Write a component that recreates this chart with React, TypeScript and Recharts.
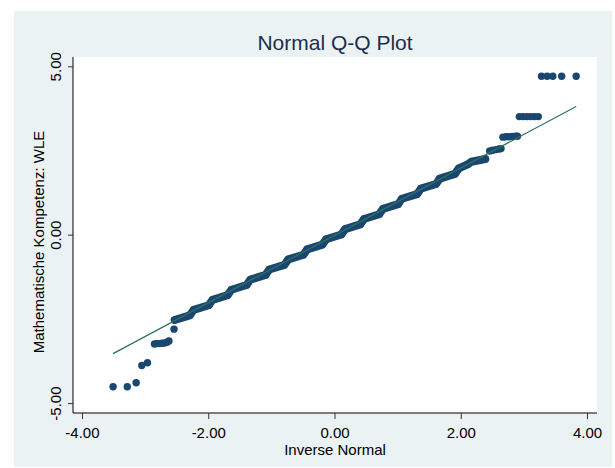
import React from 'react';
import { ScatterChart, Scatter, XAxis, YAxis, CartesianGrid, Label } from 'recharts';

// lower tail
const lowX = [-3.515, -3.29, -3.15, -3.06, -2.97, -2.86, -2.82, -2.78, -2.74, -2.70, -2.66, -2.63, -2.55];
const lowY = [-4.5, -4.5, -4.38, -3.87, -3.79, -3.23, -3.22, -3.22, -3.21, -3.2, -3.18, -3.14, -2.79];

// main band: start and end of each run of tied WLE values
const midX = [
  -2.54, -2.3, -2.24, -2.0, -1.94, -1.7, -1.64, -1.4, -1.34, -1.1, -1.04, -0.8, -0.74, -0.5, -0.44, -0.2,
  -0.14, 0.1, 0.16, 0.4, 0.46, 0.7, 0.76, 1.0, 1.06, 1.3, 1.36, 1.6, 1.66, 1.9, 1.96, 2.1, 2.16, 2.38,
];
const midY = [
  -2.52, -2.38, -2.22, -2.08, -1.92, -1.78, -1.62, -1.48, -1.32, -1.18, -1.02, -0.88, -0.72, -0.58, -0.42, -0.28,
  -0.12, 0.02, 0.18, 0.32, 0.48, 0.62, 0.78, 0.92, 1.08, 1.22, 1.38, 1.52, 1.68, 1.82, 1.98, 2.1, 2.18, 2.26,
];

// upper tail
const highX = [2.45, 2.5, 2.55, 2.6, 2.63, 2.66, 2.71, 2.76, 2.81, 2.86, 2.89, 2.92, 2.98, 3.04, 3.1, 3.16, 3.22, 3.27, 3.36, 3.45, 3.59, 3.82];
const highY = [2.5, 2.52, 2.54, 2.56, 2.57, 2.91, 2.92, 2.92, 2.93, 2.94, 2.94, 3.52, 3.52, 3.52, 3.52, 3.52, 3.52, 4.72, 4.72, 4.72, 4.72, 4.72];

const xTicks = [-4, -2, 0, 2, 4];
const yTicks = [-5, 0, 5];
// normal line y = x between the smallest and largest normal quantile
const lineEnds = [-3.515, 3.82];

const toPts = (xs: number[], ys: number[]) => xs.map((x, i) => ({ x, y: ys[i] }));
const lowPts = toPts(lowX, lowY);
const midPts = toPts(midX, midY);
const highPts = toPts(highX, highY);
const linePts = lineEnds.map((v) => ({ x: v, y: v }));

const FONT = '"Liberation Sans", Arial, sans-serif';
const NAVY = '#1a476f';

const Dot = (props: any) => <circle cx={props.cx} cy={props.cy} r={3.7} fill={NAVY} />;
const NoDot = () => <g />;

const XTick = ({ x, y, payload }: any) => (
  <text x={x} y={y} dy="0.71em" textAnchor="middle" fontSize={15} fontFamily={FONT} fill="#000">
    {payload.value.toFixed(2)}
  </text>
);

const YTick = ({ x, y, payload }: any) => (
  <text
    x={x}
    y={y}
    transform={`rotate(-90 ${x} ${y})`}
    textAnchor="middle"
    fontSize={15}
    fontFamily={FONT}
    fill="#000"
  >
    {payload.value.toFixed(2)}
  </text>
);

const YTitle = ({ viewBox }: any) => {
  const cx = 44;
  const cy = viewBox.y + viewBox.height / 2 + 7;
  return (
    <text
      x={cx}
      y={cy}
      transform={`rotate(-90 ${cx} ${cy})`}
      textAnchor="middle"
      fontSize={15}
      fontFamily={FONT}
      fill="#000"
    >
      Mathematische Kompetenz: WLE
    </text>
  );
};

export default function App() {
  return (
    <div style={{ position: 'absolute', left: 0, top: 0, width: 615, height: 468, background: '#fff' }}>
      <div style={{ position: 'absolute', left: 14, top: 11, width: 598, height: 456, background: '#eaf2f3' }} />
      <svg style={{ position: 'absolute', left: 0, top: 0 }} width={615} height={468}>
        <text x={335} y={50} textAnchor="middle" fontSize={21} fontFamily={FONT} fill="#1e2d4c">
          Normal Q-Q Plot
        </text>
      </svg>
      <div style={{ position: 'absolute', left: 0, top: 0 }}>
        <ScatterChart width={615} height={468} margin={{ top: 57, right: 18, left: 0, bottom: 0 }}>
          <CartesianGrid horizontal={false} vertical={false} fill="#fff" />
          <XAxis
            type="number"
            dataKey="x"
            domain={[-4.15, 4.15]}
            ticks={xTicks}
            height={55}
            tickSize={6}
            tickMargin={8}
            tick={<XTick />}
            stroke="#000"
            tickLine={{ stroke: '#333' }}
          >
            <Label value="Inverse Normal" position="insideBottom" offset={13.5} fontSize={15} fontFamily={FONT} fill="#000" />
          </XAxis>
          <YAxis
            type="number"
            dataKey="y"
            domain={[-5.28, 5.29]}
            ticks={yTicks}
            width={73}
            tickSize={5}
            tickMargin={6.5}
            tick={<YTick />}
            stroke="#000"
            tickLine={{ stroke: '#333' }}
          >
            <Label content={<YTitle />} />
          </YAxis>
          <Scatter
            data={midPts}
            shape={<Dot />}
            line={{ stroke: NAVY, strokeWidth: 8, strokeLinecap: 'round', strokeLinejoin: 'round' }}
            isAnimationActive={false}
          />
          <Scatter data={lowPts} shape={<Dot />} isAnimationActive={false} />
          <Scatter data={highPts} shape={<Dot />} isAnimationActive={false} />
          <Scatter
            data={linePts}
            shape={<NoDot />}
            line={{ stroke: '#2f7262', strokeWidth: 1.3 }}
            isAnimationActive={false}
          />
        </ScatterChart>
      </div>
    </div>
  );
}
